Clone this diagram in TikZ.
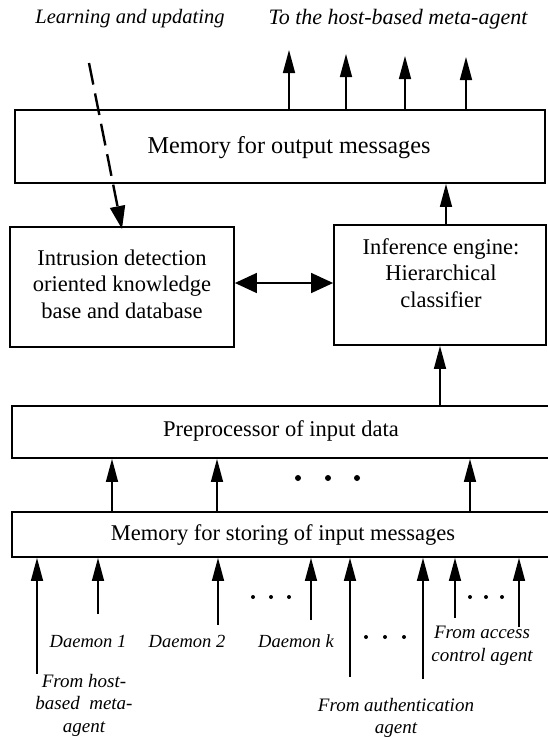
\documentclass[tikz,border=0pt]{standalone}
\usepackage{fontspec}
\setmainfont{Liberation Serif}
\usetikzlibrary{arrows.meta}
\begin{document}
\begin{tikzpicture}[x=1pt,y=-1pt,
  box/.style={draw, line width=1.8pt, inner sep=0pt},
  boxtext/.style={font=\fontsize{22.5}{26.5}\selectfont, align=center, inner sep=0pt},
  lbl/.style={font=\fontsize{19}{22.5}\selectfont\itshape, align=center, inner sep=0pt},
  toplbl/.style={font=\fontsize{20.5}{24}\selectfont\itshape, inner sep=0pt},
  dlbl/.style={font=\fontsize{18.5}{21}\selectfont\itshape, inner sep=0pt},
  uparrow/.style={line width=1.5pt, -{Triangle[length=23pt,width=12pt]}},
  dblarrow/.style={line width=1.5pt, {Triangle[length=22pt,width=20pt]}-{Triangle[length=22pt,width=20pt]}},
  learnarrow/.style={line width=2.4pt, dash pattern=on 22pt off 9pt, -{Triangle[length=23pt,width=15pt]}},
  dot/.style={fill, circle, inner sep=0pt, minimum size=#1}
]
\useasboundingbox (0,0) rectangle (548,737);
\clip (0,0) rectangle (548,737);

% boxes
\node[box, minimum width=530pt, minimum height=73pt] (out) at (280,146.5) {};
\node[box, minimum width=224pt, minimum height=120pt] (kb) at (122,287) {};
\node[box, minimum width=212pt, minimum height=120pt] (inf) at (440,285) {};
\node[box, minimum width=560pt, minimum height=52pt, anchor=west] (pp) at (11,432) {};
\node[box, minimum width=560pt, minimum height=45pt, anchor=west] (mi) at (11,534.5) {};

% box texts
\node[boxtext, font=\fontsize{24.2}{28}\selectfont] (outtxt) at (289,148) {Memory for output messages};
\node[boxtext] (kbtxt) at (122,284) {Intrusion detection\\oriented knowledge\\base and database};
\node[boxtext] (inftxt) at (441,273) {Inference engine:\\Hierarchical\\classifier};
\node[boxtext] (pptxt) at (281,431) {Preprocessor of input data};
\node[boxtext] (mitxt) at (283,535) {Memory for storing of input messages};

% top labels
\node[toplbl] (learn) at (130,19) {Learning and updating};
\node[toplbl, font=\fontsize{22}{25}\selectfont\itshape] (tohost) at (398,19) {To the host-based meta-agent};

% outputs to the host-based meta-agent
\coordinate (o1) at (289,50);
\coordinate (o2) at (346,54);
\coordinate (o3) at (405,56);
\coordinate (o4) at (466,57);
\foreach \c in {o1,o2,o3,o4}
  \draw[uparrow] (out.north -| \c) -- (\c);

% learning and updating
\coordinate (ls) at (89,63);
\coordinate (le) at (122,229);
\draw[learnarrow] (ls) -- (le);

% inner connections
\coordinate (dy) at (0,283);
\draw[dblarrow] (kb.east |- dy) -- (inf.west |- dy);
\coordinate (ix) at (446,0);
\draw[uparrow] (inf.north -| ix) -- (out.south -| ix);
\coordinate (px) at (440,0);
\draw[uparrow] (pp.north -| px) -- (inf.south -| px);

% memory to preprocessor
\foreach \x [count=\i] in {112,217,470} {
  \coordinate (m\i) at (\x,0);
  \draw[uparrow] (mi.north -| m\i) -- (pp.south -| m\i);
}
\node[dot=6pt] (d1) at (298,478) {};
\node[dot=6pt] (d2) at (328,478) {};
\node[dot=6pt] (d3) at (357,478) {};

% incoming messages
\foreach \x/\y [count=\i] in {37/674,98/614,218/625,311/620,350/677,423/679,455/618,519/627} {
  \coordinate (s\i) at (\x,\y);
  \draw[uparrow] (s\i) -- (mi.south -| s\i);
}
\foreach \x [count=\i] in {253,271,289} \node[dot=4pt] (ea\i) at (\x,597) {};
\foreach \x [count=\i] in {470,486,502} \node[dot=4pt] (eb\i) at (\x,597) {};
\foreach \x [count=\i] in {366,385,404} \node[dot=4pt] (ec\i) at (\x,637) {};

% source labels
\node[dlbl] (dm1) at (88,641) {Daemon 1};
\node[dlbl] (dm2) at (187,641) {Daemon 2};
\node[dlbl] (dmk) at (296,641) {Daemon k};
\node[lbl] (acc) at (482,646) {From access\\control agent};
\node[lbl] (host) at (84,705) {From host-\\based \ meta-\\agent};
\node[lbl] (auth) at (396,718) {From authentication\\agent};
\end{tikzpicture}
\end{document}
